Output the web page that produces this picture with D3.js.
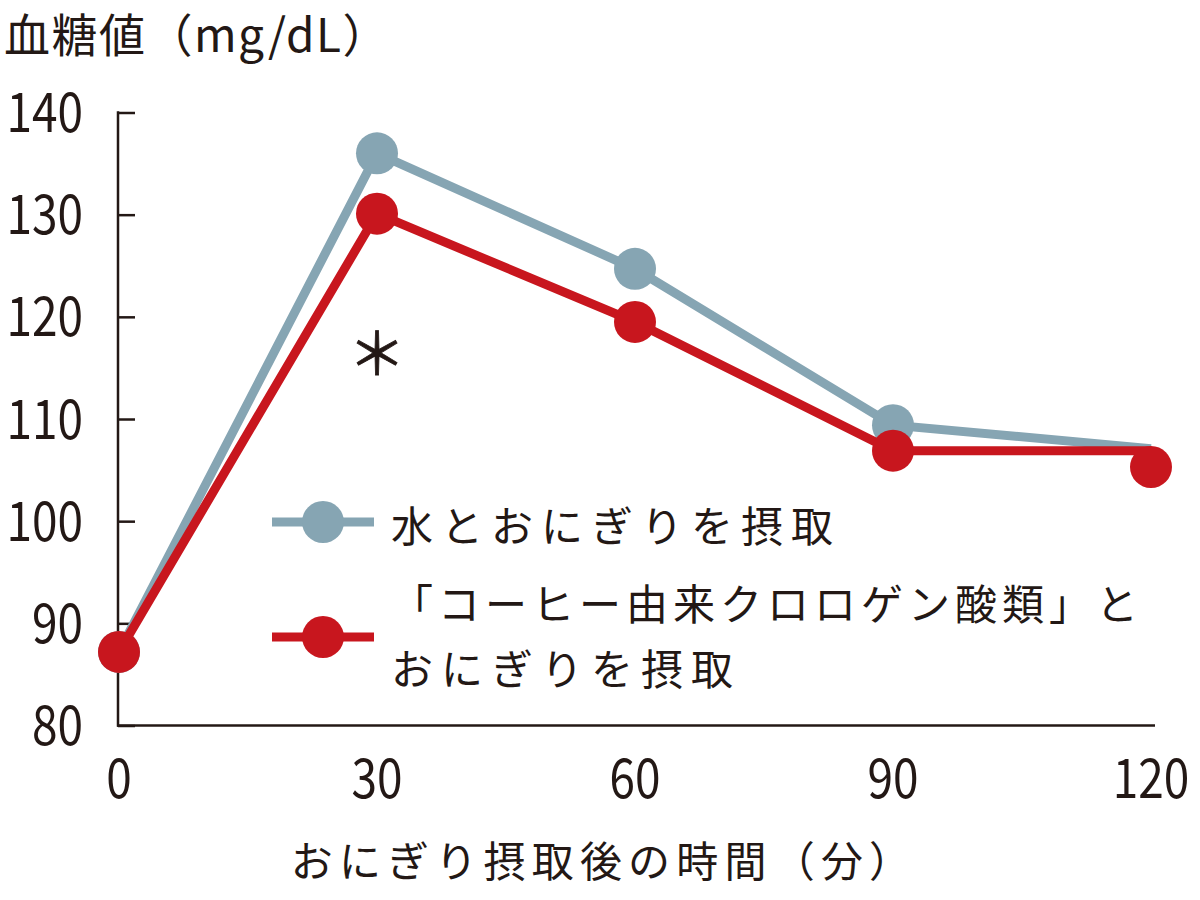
<!DOCTYPE html>
<html><head><meta charset="utf-8">
<script src="https://cdn.jsdelivr.net/npm/d3@7"></script>
<style>
html,body{margin:0;padding:0;background:#fff;}
text{font-family:"Noto Sans CJK JP","Noto Sans",sans-serif;fill:#231815;}
</style></head>
<body>
<svg id="c" width="1200" height="900"></svg>
<script>
const times = [0, 30, 60, 90, 120];
const xTickLabels = ["0", "30", "60", "90", "120"];
const yTicks = [80, 90, 100, 110, 120, 130, 140];
const waterLine = [87.2, 136.0, 124.7, 109.4, 107.1];
const waterMarkers = [87.2, 136.0, 124.7, 109.4, null];
const coffeeLine = [87.2, 130.1, 119.5, 106.9, 106.9];
const coffeeMarkers = [87.2, 130.1, 119.5, 106.9, 105.3];
const legendLabels = [["水とおにぎりを摂取"], ["「コーヒー由来クロロゲン酸類」と", "おにぎりを摂取"]];
const yTitle = "血糖値（mg/dL）";
const xTitle = "おにぎり摂取後の時間（分）";
const sigMark = "＊";

const gray = "#86a5b3", red = "#c8161e", ink = "#231815";
const svg = d3.select("#c");
const x = d3.scaleLinear().domain([0, 120]).range([119, 1151]);
const y = d3.scaleLinear().domain([80, 140]).range([725.5, 112.5]);

// axes
const yAxis = svg.append("g").attr("transform", "translate(118,0)")
  .call(d3.axisRight(y).tickValues(yTicks).tickSize(17).tickFormat(""));
yAxis.select(".domain").remove();
yAxis.selectAll("line").attr("stroke", ink).attr("stroke-width", 2.5);
svg.append("line").attr("x1", 118).attr("x2", 118).attr("y1", y(140) - 1.2).attr("y2", y(80) + 1.2)
  .attr("stroke", ink).attr("stroke-width", 2.5);
svg.append("line").attr("x1", 117).attr("x2", 1155).attr("y1", y(80)).attr("y2", y(80))
  .attr("stroke", ink).attr("stroke-width", 2.5);

const sy = 1.18;
svg.append("g").selectAll("text").data(yTicks).join("text")
  .attr("transform", d => `translate(83,${y(d)}) scale(1,${sy})`)
  .attr("dy", "0.36em").attr("text-anchor", "end")
  .attr("font-size", 46).text(d => d);
svg.append("g").selectAll("text").data(times).join("text")
  .attr("transform", d => `translate(${x(d)},778) scale(1,${sy})`)
  .attr("dy", "0.36em").attr("text-anchor", "middle")
  .attr("font-size", 46).text((d, i) => xTickLabels[i]);

svg.append("text").attr("x", 4).attr("y", 35).attr("dy", "0.36em").attr("font-size", 46)
  .attr("letter-spacing", 1.5).text(yTitle);
svg.append("text").attr("x", 604).attr("y", 862).attr("dy", "0.36em").attr("text-anchor", "middle")
  .attr("font-size", 42).attr("letter-spacing", 6.2).text(xTitle);

// series
const line = d3.line().x((d, i) => x(times[i])).y(d => y(d));
function drawSeries(lineVals, markerVals, color) {
  svg.append("path").attr("d", line(lineVals)).attr("fill", "none")
    .attr("stroke", color).attr("stroke-width", 9).attr("stroke-linejoin", "miter");
  svg.append("g").selectAll("circle")
    .data(markerVals.map((v, i) => ({v, t: times[i]})).filter(d => d.v !== null))
    .join("circle").attr("cx", d => x(d.t)).attr("cy", d => y(d.v)).attr("r", 21).attr("fill", color);
}
drawSeries(waterLine, waterMarkers, gray);
drawSeries(coffeeLine, coffeeMarkers, red);

svg.append("text").attr("x", x(30)).attr("y", 354).attr("dy", "0.36em").attr("text-anchor", "middle")
  .attr("font-size", 58).attr("stroke", ink).attr("stroke-width", 0.8).text(sigMark);

// legend
const legY = [522, 637];
const legColors = [gray, red];
const textLines = [[527], [605, 670]];
const spacing = [[8], [5, 8]];
legendLabels.forEach((lines, k) => {
  svg.append("line").attr("x1", 272).attr("x2", 374).attr("y1", legY[k]).attr("y2", legY[k])
    .attr("stroke", legColors[k]).attr("stroke-width", 9);
  svg.append("circle").attr("cx", 323).attr("cy", legY[k]).attr("r", 21).attr("fill", legColors[k]);
  lines.forEach((t, j) => {
    svg.append("text").attr("x", 391).attr("y", textLines[k][j]).attr("dy", "0.36em")
      .attr("font-size", 42).attr("letter-spacing", spacing[k][j]).text(t);
  });
});
</script>
</body></html>
